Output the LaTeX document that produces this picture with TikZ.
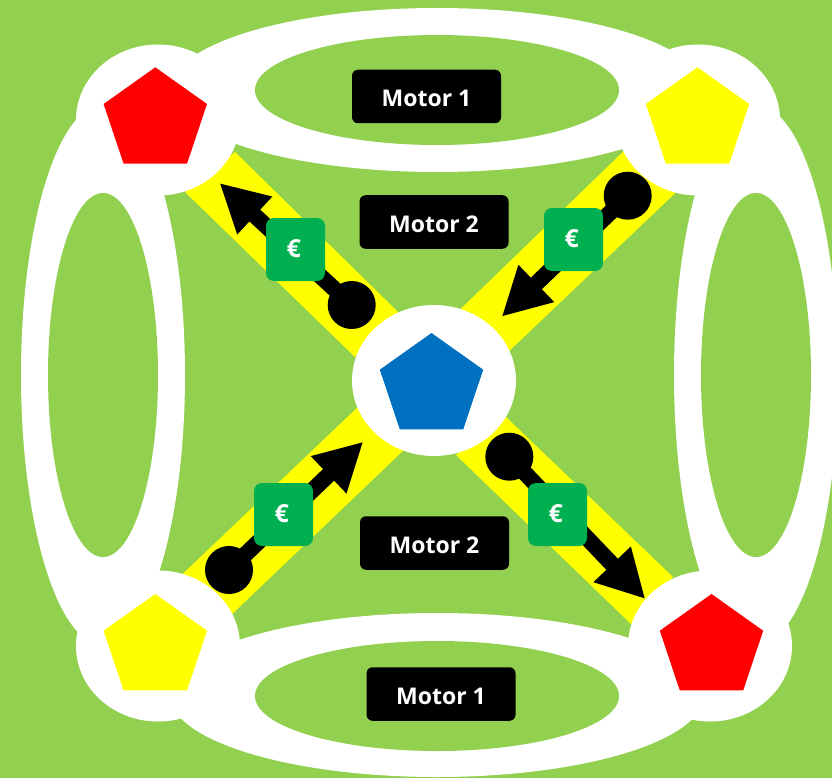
\documentclass[tikz,border=0pt]{standalone}
\usepackage{fontspec}
\setmainfont{Open Sans}
\usetikzlibrary{arrows.meta,shapes.geometric}
\definecolor{bggreen}{HTML}{92D050}
\definecolor{eurogreen}{HTML}{00B050}
\definecolor{penblue}{HTML}{0070C0}
\definecolor{penyellow}{HTML}{FFFF00}
\definecolor{penred}{HTML}{FF0000}
\newcommand{\lowertext}[1]{\raisebox{-10.2pt}[0pt][0pt]{#1}}
\newcommand{\lowereuro}{\hspace*{-3.4pt}\raisebox{-7.8pt}[0pt][0pt]{€}}
\tikzset{
  labelbox/.style={fill=black,rounded corners=6pt,text=white,anchor=center,inner sep=0pt,
    minimum width=149pt,minimum height=53.5pt,font=\fontsize{23}{27}\selectfont\bfseries},
  eurobox/.style={fill=eurogreen,rounded corners=8pt,text=white,inner sep=0pt,
    minimum width=59pt,minimum height=63pt,font=\fontsize{25}{29}\selectfont\bfseries},
  knob/.style={circle,fill=black,inner sep=0pt,minimum size=48pt},
  band/.style={fill=penyellow},
  hub/.style={fill=white},
  hole/.style={fill=bggreen},
  flow/.style={line width=16pt,draw=black,-{Triangle[length=48pt,width=48pt]}},
  penta/.pic={\fill[pic actions] (0,0) -- (51.7,36.7) -- (31.7,96.4) -- (-31.7,96.4) -- (-51.7,36.7) -- cycle;}
}
\begin{document}
\begin{tikzpicture}[x=1pt,y=-1pt]
\useasboundingbox (0,0) rectangle (832,778);
\clip (0,0) rectangle (832,778);
\fill[bggreen] (0,0) rectangle (832,778);
% yellow bands
\fill[band] (235,152) -- (398,312) -- (355,357) -- (185,192) -- cycle;
\fill[band] (628,147) -- (680,188.5) -- (505,355) -- (456.5,313) -- cycle;
\fill[band] (360,405) -- (407,447) -- (228,618) -- (180,576.5) -- cycle;
\fill[band] (506,417) -- (673,577) -- (631,624) -- (456,455) -- cycle;
% white rings
\fill[hub] (437,90) ellipse [x radius=267,y radius=82];
\fill[hub] (437,695) ellipse [x radius=267,y radius=82];
\fill[hub] (103,375) ellipse [x radius=82,y radius=270];
\fill[hub] (756,375) ellipse [x radius=82,y radius=270];
\fill[hole] (437,90) ellipse [x radius=182,y radius=55];
\fill[hole] (437,696) ellipse [x radius=182,y radius=55];
\fill[hole] (103,375) ellipse [x radius=55,y radius=182];
\fill[hole] (756,375) ellipse [x radius=55,y radius=182];
% hubs
\fill[hub] (158,120) ellipse [x radius=82,y radius=75.5];
\fill[hub] (698,120) ellipse [x radius=82,y radius=75.5];
\fill[hub] (158,646) ellipse [x radius=82,y radius=75.5];
\fill[hub] (710,646) ellipse [x radius=82,y radius=75.5];
\fill[hub] (434,380.5) ellipse [x radius=82,y radius=75.5];
% pentagons
\pic[fill=penred] at (155.3,67.3) {penta};
\pic[fill=penyellow] at (697.5,67.3) {penta};
\pic[fill=penyellow] at (155.3,594) {penta};
\pic[fill=penred] at (711.5,594) {penta};
\pic[fill=penblue] at (431.5,333) {penta};
% arrows
\node[knob] (k1) at (351.7,305) {};
\coordinate (t1) at (219.5,183);
\draw[flow] (k1.center) -- (t1);
\node[knob] (k2) at (627.7,195.7) {};
\coordinate (t2) at (501.7,316.7);
\draw[flow] (k2.center) -- (t2);
\node[knob] (k3) at (229,570) {};
\coordinate (t3) at (363.3,441.7);
\draw[flow] (k3.center) -- (t3);
\node[knob] (k4) at (509.3,456.7) {};
\coordinate (t4) at (645.3,599);
\draw[flow] (k4.center) -- (t4);
% euro boxes
\node[eurobox] (e1) at (295.5,249.5) {\lowereuro};
\node[eurobox] (e2) at (573.5,239.5) {\lowereuro};
\node[eurobox] (e3) at (283.5,514.5) {\lowereuro};
\node[eurobox] (e4) at (557.5,514.5) {\lowereuro};
% labels
\node[labelbox] (m1) at (426.5,96.5) {\lowertext{Motor 1}};
\node[labelbox] (m2) at (434,222) {\lowertext{Motor 2}};
\node[labelbox] (m3) at (434.5,543) {\lowertext{Motor 2}};
\node[labelbox] (m4) at (441,694) {\lowertext{Motor 1}};
\end{tikzpicture}
\end{document}
